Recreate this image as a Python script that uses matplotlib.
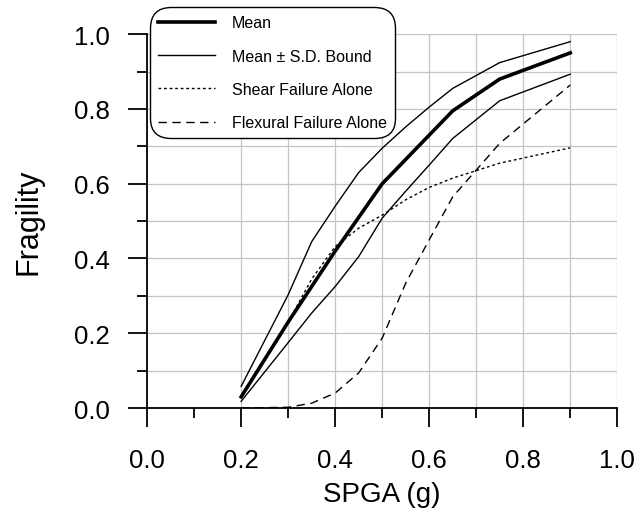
import matplotlib.pyplot as plt
from matplotlib.ticker import MultipleLocator

plt.rcParams['font.family'] = ['Liberation Sans', 'DejaVu Sans']

# SPGA values (g)
spga = [0.2, 0.3, 0.35, 0.4, 0.45, 0.5, 0.55, 0.6, 0.65, 0.75, 0.9]

mean = [0.03, 0.23, 0.325, 0.42, 0.51, 0.60, 0.665, 0.73, 0.795, 0.88, 0.95]
upper = [0.058, 0.303, 0.445, 0.54, 0.63, 0.695, 0.752, 0.805, 0.855, 0.924, 0.98]
lower = [0.018, 0.175, 0.254, 0.325, 0.405, 0.508, 0.58, 0.65, 0.721, 0.822, 0.893]
shear = [0.03, 0.23, 0.345, 0.432, 0.481, 0.516, 0.557, 0.59, 0.615, 0.655, 0.696]
flexural = [0.0, 0.002, 0.013, 0.04, 0.094, 0.187, 0.334, 0.45, 0.565, 0.708, 0.864]

fig = plt.figure(figsize=(6.37, 5.10), dpi=100)
ax = fig.add_axes([0.231, 0.198, 0.738, 0.733])

# grid drawn by hand (no vertical line at 0.1)
gc = '#c4c4c4'
for yv in [0.1, 0.2, 0.3, 0.4, 0.5, 0.6, 0.7, 0.8, 0.9, 1.0]:
    ax.axhline(yv, color=gc, lw=0.9, zorder=0)
for xv in [0.2, 0.3, 0.4, 0.5, 0.6, 0.7, 0.8, 0.9, 1.0]:
    ax.axvline(xv, color=gc, lw=0.9, zorder=0)

ax.plot(spga, mean, 'k-', lw=2.6, label='Mean')
ax.plot(spga, upper, 'k-', lw=1.0, label='Mean \u00b1 S.D. Bound')
ax.plot(spga, lower, 'k-', lw=1.0)
ax.plot(spga, shear, 'k', ls=(0, (2, 2)), lw=1.0, label='Shear Failure Alone')
ax.plot(spga, flexural, 'k', ls=(0, (6, 4)), lw=1.0, label='Flexural Failure Alone')

ax.set_xlim(0, 1.0)
ax.set_ylim(0, 1.0)
for s in ['top', 'right']:
    ax.spines[s].set_visible(False)
for s in ['left', 'bottom']:
    ax.spines[s].set_linewidth(1.3)

ax.xaxis.set_major_locator(MultipleLocator(0.2))
ax.xaxis.set_minor_locator(MultipleLocator(0.1))
ax.yaxis.set_major_locator(MultipleLocator(0.2))
ax.yaxis.set_minor_locator(MultipleLocator(0.1))
ax.xaxis.set_major_formatter(lambda v, p: f'{v:.1f}')
ax.yaxis.set_major_formatter(lambda v, p: f'{v:.1f}')
ax.tick_params(which='major', direction='out', length=14, width=1.3, labelsize=18.5)
ax.tick_params(which='minor', direction='out', length=7, width=1.3)
ax.tick_params(axis='x', which='major', pad=15)
ax.tick_params(axis='y', which='major', pad=13)

ax.set_xlabel('SPGA (g)', fontsize=20, labelpad=6)
ax.set_ylabel('Fragility', fontsize=22, labelpad=22)

leg = ax.legend(loc='upper left', bbox_to_anchor=(0.006, 1.072), borderaxespad=0,
                fontsize=11.5, handlelength=3.6, labelspacing=1.15, handletextpad=1.05,
                frameon=True, fancybox=True, framealpha=1, edgecolor='black',
                borderpad=0.5)
leg.get_frame().set_linewidth(1.0)
leg.get_frame().set_boxstyle('round', pad=0, rounding_size=1.3)
leg.set_zorder(5)
leg.set_clip_on(False)

fig.savefig('out.png', dpi=100)
